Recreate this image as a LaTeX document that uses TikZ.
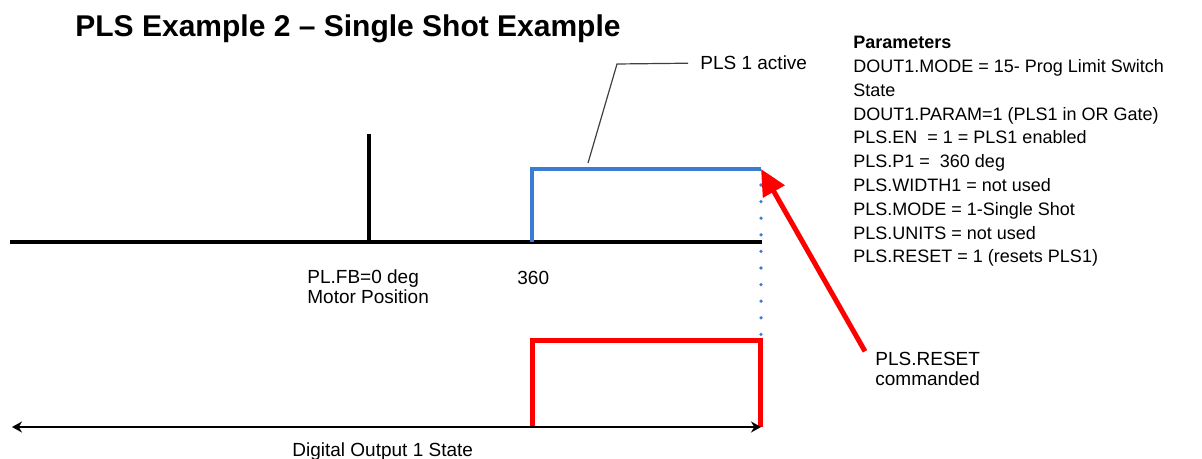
\documentclass[tikz,border=0pt]{standalone}
\usepackage{fontspec}
\setmainfont{Liberation Sans}
\usepackage{xcolor}
\usepackage{tikz}
\usetikzlibrary{arrows.meta}
\definecolor{plsblue}{RGB}{58,124,212}
\tikzset{every node/.append style={font=\fontsize{9.5}{9.6}\selectfont, inner sep=0pt}}

\begin{document}
\begin{tikzpicture}[x=0.5pt, y=-0.5pt, >=Stealth]
    \useasboundingbox (0,0) rectangle (1202,459);
    % position axis
    \coordinate (axL) at (10,242);
    \coordinate (axR) at (762,242);
    \coordinate (zeroTop) at (369,134);
    \coordinate (zeroBot) at (369,242);
    \draw[line width=2pt] (axL) -- (axR);
    \draw[line width=2pt] (zeroBot) -- (zeroTop);
    % PLS 1 active (blue)
    \coordinate (b0) at (532,242);
    \coordinate (b1) at (532,169);
    \coordinate (b2) at (761,169);
    \coordinate (b3) at (761,338);
    \draw[plsblue, line width=2pt] (b0) -- (b1) -- (b2);
    \draw[plsblue, line width=1.8pt, line cap=round, dash pattern=on 0pt off 8.3pt] ([yshift=-8pt]b2) -- (b3);
    % digital output (red)
    \coordinate (r0) at (532,427);
    \coordinate (r1) at (532,340);
    \coordinate (r2) at (760,340);
    \coordinate (r3) at (760,427);
    \draw[red, line width=2.5pt] (r0) -- (r1) -- (r2) -- (r3);
    \coordinate (outL) at (12,427);
    \coordinate (outR) at (761,427);
    \draw[{Stealth[length=5pt,width=5.5pt]}-{Stealth[length=5pt,width=5.5pt]}, line width=1.2pt] (outL) -- (outR);
    % labels
    \node[anchor=base west, font=\bfseries\fontsize{15}{17}\selectfont] (title) at (75,37) {PLS Example 2 -- Single Shot Example};
    \node[anchor=base west, align=left] (fb) at (307,303) {PL.FB=0 deg\\Motor Position};
    \node[anchor=base west] (p360) at (517,285) {360};
    \node[anchor=base west] (dout) at (292,456) {Digital Output 1 State};
    \node[anchor=base west] (active) at (700,70) {PLS 1 active};
    \coordinate (bend) at (617,64);
    \coordinate (onblue) at (588,163);
    \draw[black!75, line width=0.6pt] (onblue) -- (bend) -- ([xshift=-6pt]active.west);
    \node[anchor=base west, align=left, font=\fontsize{9.5}{10}\selectfont] (reset) at (875,385) {PLS.RESET\\commanded};
    \draw[red, line width=2.5pt, -{Triangle[length=13pt,width=12pt]}] ([xshift=-5pt]reset.north west) -- (b2);
    \node[anchor=base west, align=left, font=\fontsize{9}{11.9}\selectfont] (params) at (853,263) {\textbf{Parameters}\\
        DOUT1.MODE = 15- Prog Limit Switch\\
        State\\
        DOUT1.PARAM=1 (PLS1 in OR Gate)\\
        PLS.EN \ = 1 = PLS1 enabled\\
        PLS.P1 = \ 360 deg\\
        PLS.WIDTH1 = not used\\
        PLS.MODE = 1-Single Shot\\
        PLS.UNITS = not used\\
        PLS.RESET = 1 (resets PLS1)};
\end{tikzpicture}
\end{document}
